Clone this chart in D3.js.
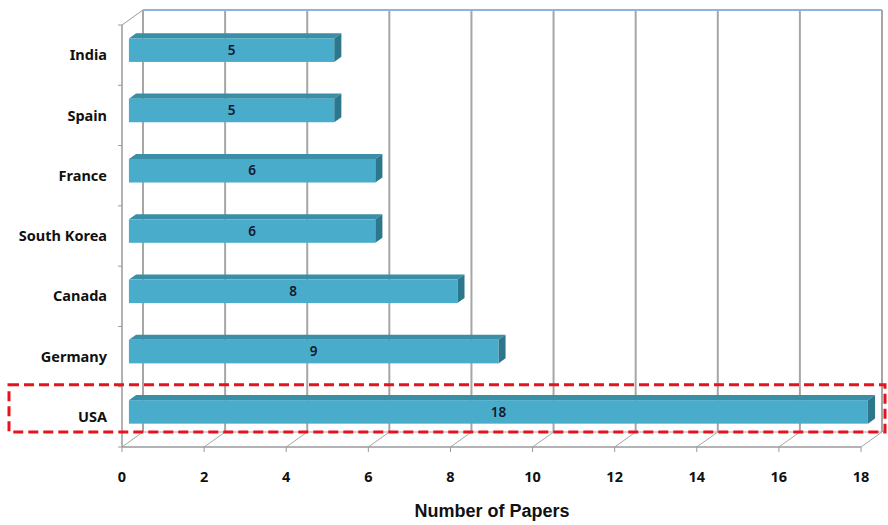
<!DOCTYPE html>
<html>
<head>
<meta charset="utf-8">
<script src="https://cdn.jsdelivr.net/npm/d3@7"></script>
<style>
  html, body { margin: 0; padding: 0; background: #fff; }
  svg text { font-family: "Noto Sans", "Open Sans", sans-serif; }
</style>
</head>
<body>
<svg id="chart" width="888" height="525"></svg>
<script>
// Papers per country
const countries = ["India", "Spain", "France", "South Korea", "Canada", "Germany", "USA"];
const papers = [5, 5, 6, 6, 8, 9, 18];
const xTicks = [0, 2, 4, 6, 8, 10, 12, 14, 16, 18];
const axisTitle = "Number of Papers";
const highlighted = "USA";

const svg = d3.select("#chart");

// front plane scales
const x = d3.scaleLinear().domain([0, 18]).range([122, 861]);
const y = d3.scaleBand().domain(countries).range([25, 447]).padding(0);

// 3-D depth offset of the back wall relative to the front plane
const DX = 21, DY = -15;
const z0 = 0.33, z1 = 0.67;           // bar depth slice
const barH = y.bandwidth() * 0.39;

const x0 = x(0), yTop = y.range()[0], yBot = y.range()[1];

// back wall gridlines
const grid = svg.append("g");
grid.selectAll("line.grid")
  .data(xTicks)
  .join("line")
  .attr("x1", d => x(d) + DX).attr("x2", d => x(d) + DX)
  .attr("y1", yTop + DY).attr("y2", yBot + DY)
  .attr("stroke", "#a6a6a6").attr("stroke-width", 2);

// back wall top edge
grid.append("line")
  .attr("x1", x0 + DX).attr("x2", x(18) + DX)
  .attr("y1", yTop + DY).attr("y2", yTop + DY)
  .attr("stroke", "#8db3e2").attr("stroke-width", 2);

// floor diagonals
grid.selectAll("line.floor")
  .data(xTicks)
  .join("line")
  .attr("x1", d => x(d)).attr("y1", yBot)
  .attr("x2", d => x(d) + DX).attr("y2", yBot + DY)
  .attr("stroke", "#a6a6a6").attr("stroke-width", 1);

// floor back edge
grid.append("line")
  .attr("x1", x0 + DX).attr("x2", x(18) + DX)
  .attr("y1", yBot + DY).attr("y2", yBot + DY)
  .attr("stroke", "#a6a6a6").attr("stroke-width", 1);

// side wall: front vertical and top diagonal
grid.append("line")
  .attr("x1", x0).attr("x2", x0).attr("y1", yTop).attr("y2", yBot)
  .attr("stroke", "#9a9a9a").attr("stroke-width", 1.5);
grid.append("line")
  .attr("x1", x0).attr("y1", yTop).attr("x2", x0 + DX).attr("y2", yTop + DY)
  .attr("stroke", "#9a9a9a").attr("stroke-width", 1);

// front axis line and ticks
grid.append("line")
  .attr("x1", x0).attr("x2", x(18)).attr("y1", yBot).attr("y2", yBot)
  .attr("stroke", "#9a9a9a").attr("stroke-width", 1.5);
grid.selectAll("line.xtick")
  .data(xTicks)
  .join("line")
  .attr("x1", d => x(d)).attr("x2", d => x(d))
  .attr("y1", yBot).attr("y2", yBot + 5)
  .attr("stroke", "#9a9a9a").attr("stroke-width", 1);

// category ticks on side axis
const catEdges = countries.map(c => y(c)).concat([yBot]);
grid.selectAll("line.ytick")
  .data(catEdges)
  .join("line")
  .attr("x1", x0 - 4).attr("x2", x0)
  .attr("y1", d => d).attr("y2", d => d)
  .attr("stroke", "#9a9a9a").attr("stroke-width", 1);

// bars
const bars = svg.append("g");
const data = countries.map((c, i) => ({ c, v: papers[i] }));
data.forEach(d => {
  const cy = y(d.c) + y.bandwidth() / 2;
  const fx0 = x0 + DX * z0, fx1 = x(d.v) + DX * z0;
  const ft = cy + DY * z0 - barH / 2, fb = ft + barH;
  const ddx = DX * (z1 - z0), ddy = DY * (z1 - z0);
  const g = bars.append("g");
  // top face
  g.append("polygon")
    .attr("points", [[fx0, ft], [fx1, ft], [fx1 + ddx, ft + ddy], [fx0 + ddx, ft + ddy]].join(" "))
    .attr("fill", "#3a8ea6");
  // end face
  g.append("polygon")
    .attr("points", [[fx1, ft], [fx1 + ddx, ft + ddy], [fx1 + ddx, fb + ddy], [fx1, fb]].join(" "))
    .attr("fill", "#2d778c");
  // front face
  g.append("rect")
    .attr("x", fx0).attr("y", ft)
    .attr("width", fx1 - fx0).attr("height", barH)
    .attr("fill", "#4aaccb");
  // value label
  g.append("text")
    .attr("x", (fx0 + fx1) / 2).attr("y", ft + barH / 2)
    .attr("dy", "0.35em")
    .attr("text-anchor", "middle")
    .attr("font-size", 13.5)
    .attr("font-weight", 600)
    .attr("fill", "#14182a")
    .text(d.v);
});

// category labels
svg.append("g").selectAll("text")
  .data(countries)
  .join("text")
  .attr("x", 107)
  .attr("y", d => y(d) + y.bandwidth() / 2)
  .attr("dy", "0.35em")
  .attr("text-anchor", "end")
  .attr("font-size", 14.5)
  .attr("font-weight", "bold")
  .attr("fill", "#111")
  .text(d => d);

// value axis labels
svg.append("g").selectAll("text")
  .data(xTicks)
  .join("text")
  .attr("x", d => x(d))
  .attr("y", 477)
  .attr("dy", "0.35em")
  .attr("text-anchor", "middle")
  .attr("font-size", 14.5)
  .attr("font-weight", "bold")
  .attr("fill", "#111")
  .text(d => d);

svg.append("text")
  .attr("x", 492).attr("y", 511)
  .attr("dy", "0.35em")
  .attr("text-anchor", "middle")
  .attr("font-size", 18)
  .attr("font-weight", "bold")
  .attr("fill", "#111")
  .style("font-family", "'Liberation Sans', Arial, sans-serif")
  .text(axisTitle);

// highlight box around the leading country
const hy = y(highlighted);
svg.append("rect")
  .attr("x", 9).attr("y", hy - 2)
  .attr("width", 876).attr("height", y.bandwidth() - 13)
  .attr("fill", "none")
  .attr("stroke", "#e8121c")
  .attr("stroke-width", 3)
  .attr("stroke-dasharray", "10,5");
</script>
</body>
</html>
